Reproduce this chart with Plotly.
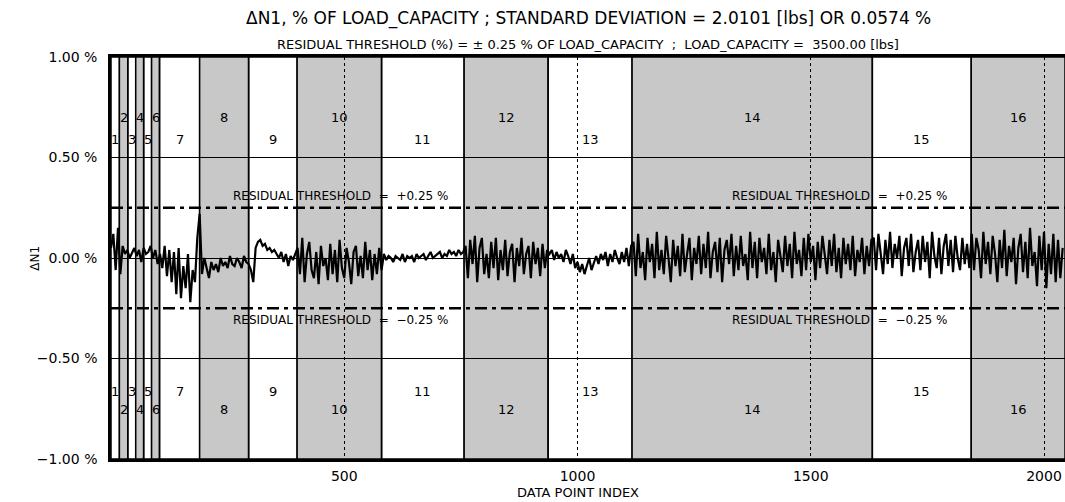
import numpy as np
import plotly.graph_objects as go

# ---- data ----
band_edges = [0, 18, 36, 53, 70, 87, 104, 190, 295, 399, 580, 757, 937, 1117, 1632, 1844, 2045]
band_labels = [str(i) for i in range(1, 17)]
x_ticks = [500, 1000, 1500, 2000]
y_ticks = [-1.0, -0.5, 0.0, 0.5, 1.0]
y_tick_text = ["\u22121.00 %", "\u22120.50 %", "0.00 %", "0.50 %", "1.00 %"]
threshold = 0.25
point_step = 5

res_b1_6 = [0.05, 0.12, -0.06, 0.15, -0.08, 0.06, 0.02, 0.04, 0.0, 0.03, 0.05, 0.01, 0.04, -0.02,
            0.05, 0.02, 0.03, 0.06, 0.0, 0.04, -0.03]
res_b7 = [0.02, -0.05, 0.06, -0.09, 0.04, -0.12, 0.03, -0.18, 0.05, -0.2, -0.04, -0.15, 0.02, -0.22,
          -0.06, -0.12, 0.1, 0.22]
res_b8 = [-0.08, 0.0, -0.05, -0.1, -0.02, -0.06, -0.03, -0.07, 0.0, -0.04, -0.02, -0.05, 0.01, -0.03,
          -0.04, 0.0, -0.02, -0.05, 0.01, -0.02, -0.03]
res_b9 = [-0.06, -0.12, 0.05, 0.08, 0.09, 0.06, 0.07, 0.04, 0.05, 0.03, 0.04, 0.02, 0.0, 0.03, -0.02,
          0.02, -0.04, 0.01, -0.01, 0.02]
res_b10 = [0.05, -0.08, 0.1, -0.12, 0.02, 0.08, -0.06, -0.1, 0.03, -0.13, 0.06, -0.04, 0.0, -0.11, 0.07,
           -0.08, 0.04, -0.12, 0.09, -0.05, -0.1, 0.05, -0.02, -0.13, 0.03, 0.06, -0.09, 0.01, -0.1, 0.08,
           -0.06, 0.04, -0.11, 0.02, -0.08, 0.05, -0.06]
res_b11 = [0.02, -0.01, 0.01, 0.0, -0.02, 0.01, 0.0, -0.01, 0.02, -0.02, 0.01, 0.0, 0.01, -0.02, 0.02,
           0.0, 0.01, 0.02, -0.01, 0.01, 0.03, 0.0, 0.01, 0.02, 0.03, 0.0, 0.02, 0.01, 0.04, 0.02, 0.03,
           0.01, 0.04, 0.02, 0.03]
res_b12 = [0.06, -0.1, 0.09, -0.03, 0.11, -0.12, 0.05, 0.1, -0.08, 0.02, -0.1, 0.08, -0.05, 0.1, -0.11,
           0.04, -0.06, 0.09, -0.09, 0.03, 0.07, -0.12, 0.05, -0.04, 0.1, -0.08, 0.02, 0.06, -0.1, 0.08,
           -0.03, 0.05, -0.09, 0.07, -0.05, 0.04]
res_b13 = [0.02, 0.04, -0.01, 0.03, 0.0, 0.02, -0.02, 0.04, 0.01, -0.03, 0.02, -0.05, -0.02, -0.07, -0.03,
           -0.08, -0.04, 0.0, -0.06, -0.02, 0.01, -0.03, 0.02, -0.01, 0.03, -0.04, 0.02, -0.02, 0.04, 0.0,
           -0.03, 0.03, -0.02, 0.05, -0.04, 0.06]
res_b14a = [0.08, -0.09, 0.12, -0.05, 0.03, -0.11, 0.1, -0.02, 0.07, -0.1, 0.13, -0.06, 0.04, -0.08, 0.11,
            0.0, -0.12, 0.09, -0.04, 0.06, -0.09, 0.12, -0.07, 0.02, 0.1, -0.11, 0.05, -0.03, 0.11, -0.08,
            0.07, -0.05, 0.13, -0.1, 0.03, 0.08, -0.07, 0.1, -0.12, 0.04, 0.09, -0.03, 0.12, -0.09, 0.06,
            -0.06, 0.11, -0.04, 0.02, -0.11, 0.13]
res_b14b = [-0.05, 0.08, -0.1, 0.1, -0.02, 0.05, -0.08, 0.12, -0.06, 0.03, -0.12, 0.09, 0.01, -0.07, 0.11,
            -0.04, 0.07, -0.1, 0.13, -0.03, 0.04, -0.09, 0.1, -0.06, 0.12, -0.02, 0.06, -0.11, 0.08, -0.05,
            0.11, 0.0, -0.08, 0.09, -0.04, 0.12, -0.07, 0.05, -0.1, 0.1, -0.03, 0.07, -0.06, 0.11, -0.09,
            0.04, -0.02, 0.1, -0.08, 0.06, -0.04, 0.09]
res_b15 = [0.1, -0.06, 0.12, 0.02, -0.08, 0.09, -0.03, 0.13, -0.05, 0.07, 0.0, 0.11, -0.09, 0.05, 0.1,
           -0.04, 0.12, -0.07, 0.03, 0.09, -0.06, 0.11, -0.02, 0.08, -0.1, 0.13, 0.01, -0.05, 0.1, -0.08,
           0.06, 0.12, -0.04, 0.09, -0.07, 0.11, 0.0, -0.06, 0.1, -0.03, 0.07, -0.05]
res_b16 = [0.12, -0.06, 0.1, 0.04, -0.1, 0.13, -0.03, 0.08, -0.08, 0.11, 0.02, -0.12, 0.09, -0.05, 0.14,
           -0.09, 0.06, -0.02, 0.1, -0.13, 0.05, 0.12, -0.07, 0.08, -0.1, 0.15, -0.04, 0.03, -0.14, 0.11,
           -0.06, 0.13, -0.15, 0.07, -0.08, 0.12, -0.12, 0.09, -0.1, 0.05]

residual = (res_b1_6 + res_b7 + res_b8 + res_b9 + res_b10 + res_b11 + res_b12 + res_b13
            + res_b14a + res_b14b + res_b15 + res_b16)
index = [i * point_step for i in range(len(residual))]

FONT = "DejaVu Sans"
GREY = "#c8c8c8"
xmin, xmax = band_edges[0], band_edges[-1]

fig = go.Figure()

shapes = []
annotations = []
for i in range(len(band_edges) - 1):
    x0, x1 = band_edges[i], band_edges[i + 1]
    even = (i + 1) % 2 == 0
    shapes.append(dict(type="rect", xref="x", yref="y", x0=x0, x1=x1, y0=-1, y1=1,
                       fillcolor=GREY if even else "rgba(0,0,0,0)",
                       line=dict(color="black", width=1.5), layer="below"))
    xc = (x0 + x1) / 2
    y_top = 0.70 if even else 0.59
    y_bot = -0.755 if even else -0.665
    for yy in (y_top, y_bot):
        annotations.append(dict(x=xc, y=yy, xref="x", yref="y", text=band_labels[i],
                                showarrow=False, font=dict(family=FONT, size=13, color="black")))

fig.add_trace(go.Scatter(x=index, y=residual, mode="lines",
                         line=dict(color="black", width=2.2), showlegend=False))

for t in (threshold, -threshold):
    fig.add_trace(go.Scatter(x=[xmin, xmax], y=[t, t], mode="lines",
                             line=dict(color="black", width=2.5, dash="12px,5px,4px,5px"),
                             showlegend=False))
    sign = "+" if t > 0 else "\u2212"
    for xl in (492, 1561):
        annotations.append(dict(x=xl, y=t, xref="x", yref="y",
                                text=f"RESIDUAL THRESHOLD  =  {sign}{abs(t):.2f} %",
                                showarrow=False, yshift=12 if t > 0 else -12,
                                font=dict(family=FONT, size=12, color="black")))

annotations.append(dict(x=0.5, y=1.0, xref="paper", yref="paper", yanchor="middle", yshift=39,
                        text="\u0394N1, % OF LOAD_CAPACITY ; STANDARD DEVIATION = 2.0101 [lbs] OR 0.0574 %",
                        showarrow=False, font=dict(family=FONT, size=17, color="black")))
annotations.append(dict(x=0.5, y=1.0, xref="paper", yref="paper", yanchor="middle", yshift=13,
                        text="RESIDUAL THRESHOLD (%) = \u00b1 0.25 % OF LOAD_CAPACITY  ;  LOAD_CAPACITY =  3500.00 [lbs]",
                        showarrow=False, font=dict(family=FONT, size=13, color="black")))
annotations.append(dict(x=-0.08, y=0.5, xref="paper", yref="paper", textangle=-90,
                        xanchor="center", yanchor="middle",
                        text="\u0394N1", showarrow=False,
                        font=dict(family=FONT, size=12, color="black")))
annotations.append(dict(x=0.4895, y=0, xref="paper", yref="paper", yanchor="middle", yshift=-33,
                        text="DATA POINT INDEX", showarrow=False,
                        font=dict(family=FONT, size=13, color="black")))

fig.update_layout(
    width=1065, height=502,
    margin=dict(l=111, r=0, t=57, b=43),
    paper_bgcolor="white", plot_bgcolor="white",
    shapes=shapes, annotations=annotations,
    xaxis=dict(range=[xmin, xmax], tickvals=x_ticks, ticks="", showgrid=True,
               gridcolor="black", gridwidth=1, griddash="dot",
               showline=True, linecolor="black", linewidth=2.5, mirror=True,
               zeroline=False, ticklabelstandoff=2,
               tickfont=dict(family=FONT, size=14, color="black")),
    yaxis=dict(range=[-1, 1], tickvals=y_ticks, ticktext=y_tick_text, ticks="",
               showgrid=True, gridcolor="black", gridwidth=1,
               showline=True, linecolor="black", linewidth=2.5, mirror=False,
               zeroline=False, ticklabelstandoff=8,
               tickfont=dict(family=FONT, size=14, color="black")),
)

fig.write_html("out.html", config={"displayModeBar": False},
               post_script="document.body.style.margin='0';document.body.style.overflow='hidden';")
